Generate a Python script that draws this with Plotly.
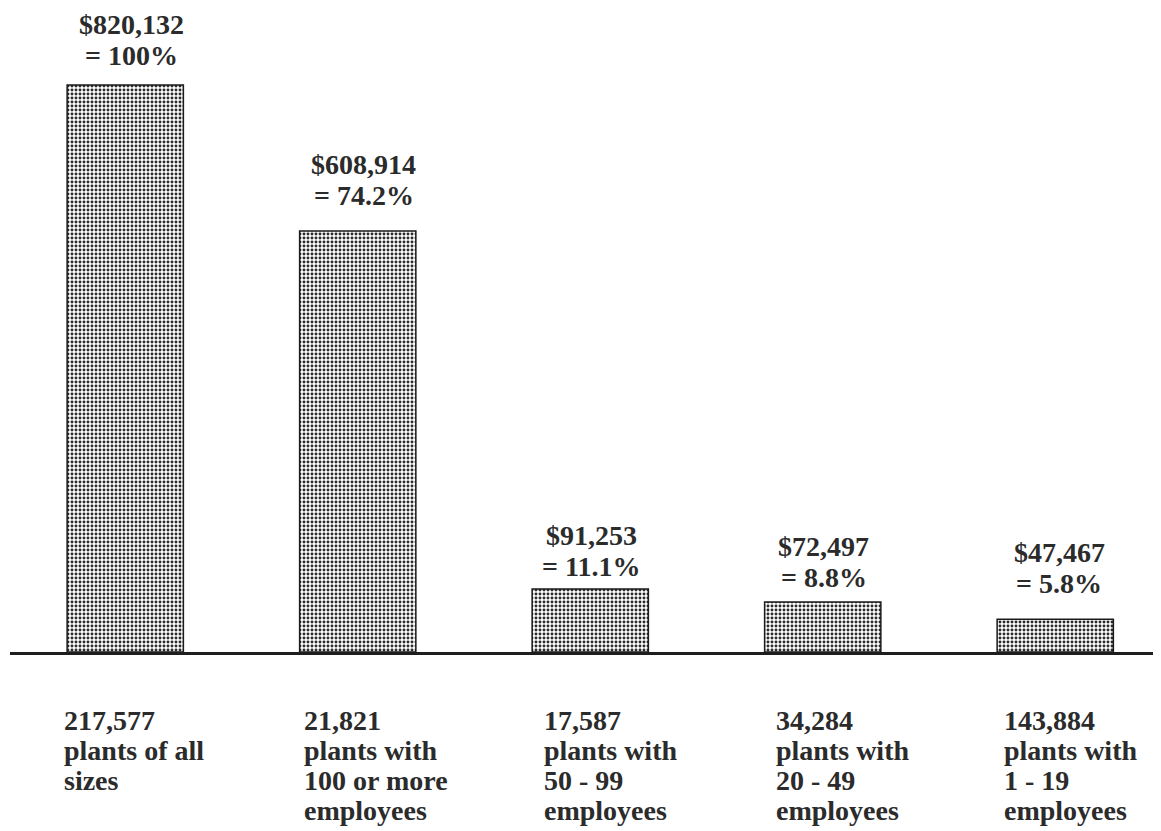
import plotly.graph_objects as go

# ---- data ----
values = [820132, 608914, 91253, 72497, 47467]
value_labels = ["$820,132", "$608,914", "$91,253", "$72,497", "$47,467"]
pct_labels = ["= 100%", "= 74.2%", "= 11.1%", "= 8.8%", "= 5.8%"]
plant_counts = ["217,577", "21,821", "17,587", "34,284", "143,884"]
desc_line1 = ["plants of all", "plants with", "plants with", "plants with", "plants with"]
desc_line2 = ["sizes", "100 or more", "50 - 99", "20 - 49", "1 - 19"]
desc_line3 = ["", "employees", "employees", "employees", "employees"]

# ---- style ----
TXT = "#2b2b2b"
FONT = "Liberation Serif"
FS = 28
pitch = 31
bpitch = 30
top_gap = [30, 36, 22, 24, 36]          # px from bar top to 2nd label line centre
top_dx = [6, 6, 1, 1, 4]                # px horizontal shift of top labels
bot_dx = [-63, -56, -48, -49, -53]      # px shift of bottom label left edge
bot_first = 68                          # px below baseline of first bottom line centre

xs = list(range(len(values)))
fig = go.Figure(go.Bar(
    x=xs, y=values, width=0.5,
    marker=dict(color="white",
                line=dict(color="#1a1a1a", width=1.5),
                pattern=dict(shape=".", size=4, solidity=0.42,
                             fgcolor="#2a2a2a", bgcolor="white", fillmode="replace")),
    hoverinfo="skip",
))

ann = []
for i, v in enumerate(values):
    for k, t in enumerate([value_labels[i], pct_labels[i]]):
        ann.append(dict(x=xs[i], y=v, xref="x", yref="y", text=t, showarrow=False,
                        xanchor="center", yanchor="middle",
                        xshift=top_dx[i], yshift=top_gap[i] + pitch * (1 - k),
                        font=dict(family=FONT, size=FS, color=TXT, weight="bold")))
    lines = [plant_counts[i], desc_line1[i], desc_line2[i], desc_line3[i]]
    for k, t in enumerate(lines):
        if not t:
            continue
        ann.append(dict(x=xs[i], y=0, xref="x", yref="y", text=t, showarrow=False,
                        xanchor="left", yanchor="middle",
                        xshift=bot_dx[i], yshift=-(bot_first + bpitch * k),
                        font=dict(family=FONT, size=FS, color=TXT, weight="bold")))

# page body has an 8px margin; figure is sized/offset to compensate
OFF = 8
W, H = 1161 - OFF, 831 - OFF
left_px, base_px, top_bar_px = 10 - OFF, 652 - OFF, 85 - OFF
spacing_px, c0_px = 232.5, 125.25 - OFF
ymax = values[0] * base_px / (base_px - top_bar_px)

fig.update_layout(
    width=W, height=H,
    margin=dict(l=left_px, r=0, t=0, b=H - base_px),
    paper_bgcolor="white", plot_bgcolor="rgba(0,0,0,0)",
    showlegend=False,
    xaxis=dict(range=[(left_px - c0_px) / spacing_px, (W - c0_px) / spacing_px],
               showgrid=False, zeroline=False, showticklabels=False, ticks="",
               showline=True, linecolor="#1e1e1e", linewidth=2.5, fixedrange=True),
    yaxis=dict(range=[0, ymax], visible=False, fixedrange=True),
    annotations=ann,
)
fig.write_html("out.html")
